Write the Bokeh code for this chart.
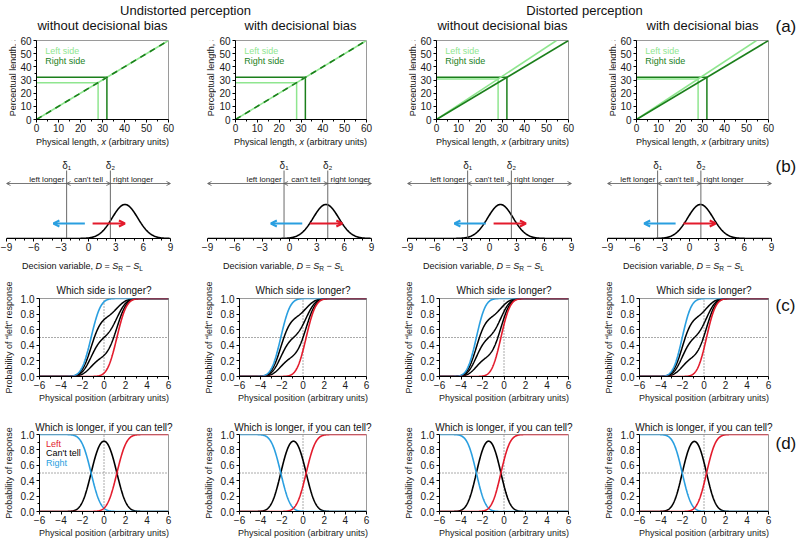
import numpy as np
from math import erf, sqrt, pi
from bokeh.plotting import figure
from bokeh.models import Range1d, FixedTicker, Label, Arrow, OpenHead, NumeralTickFormatter
from bokeh.layouts import column, row
from bokeh.embed import file_html
from bokeh.resources import INLINE

FONT = "Liberation Sans"

# ---------------- data ----------------
group_titles = ["Undistorted perception", "Distorted perception"]
col_titles = ["without decisional bias", "with decisional bias",
              "without decisional bias", "with decisional bias"]
panel_tags = ["(a)", "(b)", "(c)", "(d)"]

# (a) perceptual length S = gain * physical length x
left_gain = [1.0, 1.0, 1.1, 1.1]
right_gain = [1.0, 1.0, 1.0, 1.0]
base_len = 30            # length of each side when the mark is at position 0
example_left = 28        # physical lengths used in rows (a) and (b)
example_right = 32
len_ticks = [0, 10, 20, 30, 40, 50, 60]
len_minor = [5, 15, 25, 35, 45, 55]

# (b) decision criteria and noise of D = S_R - S_L
delta1 = [-2.4, -0.6, -2.4, -3.5]
delta2 = [2.4, 4.2, 2.4, 1.25]
noise_sd = 1.4
dv_ticks = [-9, -6, -3, 0, 3, 6, 9]
dv_minor = [-8, -7, -5, -4, -2, -1, 1, 2, 4, 5, 7, 8]
blue_arrow = [-0.4, -3.85]   # start/end, relative to centre of the "can't tell" zone
red_arrow = [0.45, 4.0]

# (c) probability of saying "left" when "can't tell" (blue, black x3, red)
guess_left = [1.0, 0.75, 0.5, 0.25, 0.0]
pos_ticks = [-6, -4, -2, 0, 2, 4, 6]
pos_minor = [-5, -3, -1, 1, 3, 5]
prob_ticks = [0.0, 0.2, 0.4, 0.6, 0.8, 1.0]
prob_minor = [0.1, 0.3, 0.5, 0.7, 0.9]

LIGHT_GREEN = "#8fe68f"
DARK_GREEN = "#1b7f1b"
BLUE = "#2a9fe0"
RED = "#e31b2c"
BLACK = "#000000"
TXT = "#111111"

# ---------------- layout (pixels) ----------------
TOTAL_W = 798
col_w = [200, 200, 200, 175]
TAG_W = 23
col_x0 = [0, 200, 400, 600]
L_acd = [36, 34, 36, 36]
FW_ACD = 132
L_b = [6, 7, 7, 7]
FW_B = 164
YSTRIP_W = 16

CW = {' ': 278, ',': 278, '(': 333, ')': 333, '=': 584, '\u2212': 584, "'": 191,
      '.': 278, '-': 333}
for ch, w in zip("abcdefghijklmnopqrstuvwxyz",
                 [556, 556, 500, 556, 556, 278, 556, 556, 222, 222, 500, 222, 833,
                  556, 556, 556, 556, 333, 500, 278, 556, 500, 722, 500, 500, 500]):
    CW[ch] = w
for ch, w in zip("ABCDEFGHIJKLMNOPQRSTUVWXYZ",
                 [667, 667, 722, 722, 667, 611, 778, 722, 278, 500, 667, 556, 833,
                  722, 778, 667, 778, 722, 667, 611, 722, 667, 944, 667, 667, 611]):
    CW[ch] = w


def text_w(s, size):
    return sum(CW.get(ch, 556) for ch in s) * size / 1000.0


def blank(width, height):
    p = figure(width=width, height=height, x_range=Range1d(0, width), y_range=Range1d(0, height),
               toolbar_location=None, output_backend="svg", title=None,
               x_axis_location=None, y_axis_location=None, min_border=0)
    p.grid.visible = False
    p.outline_line_color = None
    return p


def compose(p, x, y, segs, vertical=False):
    total = sum(text_w(t, sz) for t, sz, st, dy in segs)
    pos = -total / 2.0
    for t, sz, st, dy in segs:
        lead = text_w(t[:len(t) - len(t.lstrip())], sz)
        core = t.strip()
        if core:
            if vertical:
                lab = Label(x=x, y=y, x_offset=-dy, y_offset=pos + lead, angle=pi / 2, text=core)
            else:
                lab = Label(x=x, y=y, x_offset=pos + lead, y_offset=dy, text=core)
            lab.text_font = FONT
            lab.text_font_size = f"{sz}px"
            lab.text_font_style = st
            lab.text_align = "left"
            lab.text_baseline = "alphabetic"
            lab.text_color = TXT
            p.add_layout(lab)
        pos += text_w(t, sz)


def style_axes(p):
    for ax in p.axis:
        ax.major_label_text_font = FONT
        ax.major_label_text_font_size = "10px"
        ax.major_label_text_color = "#1a1a1a"
        ax.axis_label_text_font = FONT
        ax.axis_label_text_font_size = "9px"
        ax.axis_label_text_font_style = "normal"
        ax.axis_label_text_color = "#1a1a1a"
        ax.major_tick_out = 3
        ax.major_tick_in = 0
        ax.minor_tick_out = 2
        ax.minor_tick_in = 0
        ax.axis_line_color = "black"
        ax.major_tick_line_color = "black"
        ax.minor_tick_line_color = "black"
    for ax in p.xaxis:
        ax.major_label_standoff = 1
        ax.axis_label_standoff = 1
    for ax in p.yaxis:
        ax.major_label_standoff = 2
        ax.axis_label_standoff = 4


def minus_overrides(ticks):
    return {t: ("\u2212" + str(abs(t))) for t in ticks if t < 0}


def phi(z):
    return 0.5 * (1.0 + np.vectorize(erf)(np.asarray(z) / sqrt(2.0)))


def mean_dv(i, pos):
    # D = S_R - S_L for a mark at physical position pos
    return right_gain[i] * (base_len - pos) - left_gain[i] * (base_len + pos)


def tag_fig(height, text, from_top):
    p = blank(TAG_W, height)
    if text:
        p.add_layout(Label(x=0, y=height - from_top, text=text, text_font=FONT,
                           text_font_size="17px", text_align="left", text_baseline="middle",
                           text_color=TXT))
    return p


def acd_fig(i, H, T, B, xr, yr, title=None, left_cut=0):
    W = col_w[i] - left_cut
    L = L_acd[i] - left_cut
    p = figure(width=W, height=H, x_range=Range1d(*xr), y_range=Range1d(*yr),
               toolbar_location=None, output_backend="svg", title=title,
               min_border_left=L, min_border_right=W - L - FW_ACD,
               min_border_top=T, min_border_bottom=B)
    p.grid.visible = False
    p.outline_line_color = "#9a9a9a"
    p.outline_line_width = 1
    style_axes(p)
    return p


def frame_center(i):
    return col_x0[i] + L_acd[i] + FW_ACD / 2.0


# ---------------- header (two title lines + tag a) ----------------
HEAD_H = 35
header = blank(TOTAL_W, HEAD_H)
for txt, cx in zip(group_titles, [185, 584]):
    header.add_layout(Label(x=cx, y=25.5, text=txt, text_font=FONT, text_font_size="13px",
                            text_align="center", text_baseline="alphabetic", text_color=TXT))
for i, txt in enumerate(col_titles):
    header.add_layout(Label(x=frame_center(i), y=10, text=txt, text_font=FONT,
                            text_font_size="13px", text_align="center",
                            text_baseline="alphabetic", text_color=TXT))
header.add_layout(Label(x=775, y=HEAD_H - 26, text=panel_tags[0], text_font=FONT,
                        text_font_size="17px", text_align="left", text_baseline="middle",
                        text_color=TXT))

# ---------------- row (a) ----------------
ROW_A_H = 100
ROW_A_T = 5
FH_A = 79
row_a = []
for i in range(4):
    ys = blank(YSTRIP_W, ROW_A_H)
    compose(ys, L_acd[i] - 24, ROW_A_H - ROW_A_T - FH_A / 2.0,
            [("Perceptual length, ", 9, "normal", 0), ("S", 9, "italic", 0)], vertical=True)
    row_a.append(ys)

    p = acd_fig(i, ROW_A_H, ROW_A_T, 16, (0, 60), (0, 60), left_cut=YSTRIP_W)
    p.xaxis.ticker = FixedTicker(ticks=len_ticks, minor_ticks=len_minor)
    p.yaxis.ticker = FixedTicker(ticks=len_ticks, minor_ticks=len_minor)

    gl, gr = left_gain[i], right_gain[i]
    sl, sr = gl * example_left, gr * example_right
    p.line([example_left, example_left, 0], [0, sl, sl], line_color=LIGHT_GREEN, line_width=1.5)
    p.line([example_right, example_right, 0], [0, sr, sr], line_color=DARK_GREEN, line_width=1.5)
    p.line([0, 60 / gl], [0, 60], line_color=LIGHT_GREEN, line_width=1.6)
    if gl == gr:
        p.line([0, 60 / gr], [0, 60], line_color=DARK_GREEN, line_width=1.6, line_dash="6 5")
    else:
        p.line([0, 60 / gr], [0, 60], line_color=DARK_GREEN, line_width=1.6)

    p.add_layout(Label(x=4, y=52.4, text="Left side", text_font=FONT, text_font_size="9px",
                       text_color=LIGHT_GREEN, text_baseline="middle"))
    p.add_layout(Label(x=4, y=44.8, text="Right side", text_font=FONT, text_font_size="9px",
                       text_color=DARK_GREEN, text_baseline="middle"))
    row_a.append(p)
row_a.append(tag_fig(ROW_A_H, None, 0))

strip_a = blank(TOTAL_W, 12)
for i in range(4):
    compose(strip_a, frame_center(i), 5.5,
            [("Physical length, ", 9, "normal", 0), ("x", 9, "italic", 0),
             (" (arbitrary units)", 9, "normal", 0)])

# ---------------- row (b) ----------------
ROW_B_H = 107
row_b = []
D = np.linspace(-9, 9, 361)
for i in range(4):
    W = col_w[i]
    L = L_b[i]
    p = figure(width=W, height=ROW_B_H, x_range=Range1d(-9, 9), y_range=Range1d(0, 86),
               toolbar_location=None, output_backend="svg", y_axis_location=None, title=None,
               min_border_left=L, min_border_right=W - L - FW_B,
               min_border_top=5, min_border_bottom=16)
    p.grid.visible = False
    p.outline_line_color = None
    style_axes(p)
    p.xaxis.ticker = FixedTicker(ticks=dv_ticks, minor_ticks=dv_minor)
    p.xaxis.major_label_overrides = minus_overrides(dv_ticks)

    d1, d2 = delta1[i], delta2[i]
    c = 0.5 * (d1 + d2)
    mu = right_gain[i] * example_right - left_gain[i] * example_left
    p.line(D, 34 * np.exp(-0.5 * ((D - mu) / noise_sd) ** 2), line_color=BLACK, line_width=1.6)

    for d in (d1, d2):
        p.line([d, d], [0, 68], line_color="#6a6a6a", line_width=1)
    p.add_layout(Label(x=d1, y=73, text="\u03b4\u2081", text_font=FONT, text_font_size="10px",
                       text_align="center", text_baseline="middle", text_color="#222222"))
    p.add_layout(Label(x=d2, y=73, text="\u03b4\u2082", text_font=FONT, text_font_size="10px",
                       text_align="center", text_baseline="middle", text_color="#222222"))

    gcol = "#555555"
    yl = 55
    p.add_layout(Arrow(x_start=d1, y_start=yl, x_end=-9, y_end=yl, line_color=gcol,
                       line_width=0.8, end=OpenHead(size=4, line_color=gcol, line_width=0.8)))
    p.add_layout(Arrow(x_start=d1, y_start=yl, x_end=d2, y_end=yl, line_color=gcol,
                       line_width=0.8, start=OpenHead(size=4, line_color=gcol, line_width=0.8),
                       end=OpenHead(size=4, line_color=gcol, line_width=0.8)))
    p.add_layout(Arrow(x_start=d2, y_start=yl, x_end=9, y_end=yl, line_color=gcol,
                       line_width=0.8, end=OpenHead(size=4, line_color=gcol, line_width=0.8)))
    for txt, x, al in (("left longer", d1 - 0.25, "right"), ("can't tell", c, "center"),
                       ("right longer", d2 + 0.3, "left")):
        p.add_layout(Label(x=x, y=59, text=txt, text_font=FONT, text_font_size="8px",
                           text_align=al, text_baseline="alphabetic", text_color="#222222"))

    p.add_layout(Arrow(x_start=c + blue_arrow[0], y_start=15, x_end=c + blue_arrow[1],
                       y_end=15, line_color=BLUE, line_width=2,
                       end=OpenHead(size=6, line_color=BLUE, line_width=2)))
    p.add_layout(Arrow(x_start=c + red_arrow[0], y_start=15, x_end=c + red_arrow[1],
                       y_end=15, line_color=RED, line_width=2,
                       end=OpenHead(size=6, line_color=RED, line_width=2)))
    row_b.append(p)
row_b.append(tag_fig(ROW_B_H, panel_tags[1], 18))

strip_b = blank(TOTAL_W, 17)
for i in range(4):
    cx = col_x0[i] + L_b[i] + FW_B / 2.0 - 6
    compose(strip_b, cx, 5.5,
            [("Decision variable, ", 9, "normal", 0), ("D", 9, "italic", 0),
             (" = ", 9, "normal", 0), ("S", 9, "italic", 0),
             ("R", 6.5, "normal", -2.5), (" \u2212 ", 9, "normal", 0),
             ("S", 9, "italic", 0), ("L", 6.5, "normal", -2.5)])

# ---------------- rows (c) and (d) ----------------
pos = np.linspace(-6, 6, 361)


def cd_fig(i, H, T, title, ylabel, standoff):
    p = acd_fig(i, H, T, 28, (-6, 6), (0, 1), title=title)
    p.title.align = "center"
    p.title.text_font = FONT
    p.title.text_font_size = "10px"
    p.title.text_font_style = "normal"
    p.title.text_color = TXT
    p.title.standoff = standoff
    p.xaxis.ticker = FixedTicker(ticks=pos_ticks, minor_ticks=pos_minor)
    p.xaxis.major_label_overrides = minus_overrides(pos_ticks)
    p.yaxis.ticker = FixedTicker(ticks=prob_ticks, minor_ticks=prob_minor)
    p.yaxis.formatter = NumeralTickFormatter(format="0.0")
    p.xaxis.axis_label = "Physical position (arbitrary units)"
    p.yaxis.axis_label = ylabel
    p.line([-6, 6], [0.5, 0.5], line_color="#555555", line_width=1, line_dash="1 2")
    p.line([0, 0], [0, 1], line_color="#555555", line_width=1, line_dash="1 2")
    return p


ROW_C_H = 134
ROW_D_H = 135
row_c, row_d = [], []
for i in range(4):
    mu = mean_dv(i, pos)
    p_left = phi((delta1[i] - mu) / noise_sd)
    p_below2 = phi((delta2[i] - mu) / noise_sd)
    p_cant = p_below2 - p_left
    p_right = 1.0 - p_below2

    pc = cd_fig(i, ROW_C_H, 27, "Which side is longer?",
                "Probability of \u201cleft\u201d response", 5)
    for g in guess_left[1:-1]:
        pc.line(pos, p_left + g * p_cant, line_color=BLACK, line_width=1.5)
    pc.line(pos, p_left + guess_left[0] * p_cant, line_color=BLUE, line_width=1.6)
    pc.line(pos, p_left + guess_left[-1] * p_cant, line_color=RED, line_width=1.6)
    row_c.append(pc)

    pd = cd_fig(i, ROW_D_H, 29, "Which is longer, if you can tell?", "Probability of response", 3)
    pd.line(pos, p_cant, line_color=BLACK, line_width=1.6)
    pd.line(pos, p_right, line_color=BLUE, line_width=1.6)
    pd.line(pos, p_left, line_color=RED, line_width=1.6)
    if i == 0:
        for txt, yy, colr in (("Left", 0.88, RED), ("Can't tell", 0.755, BLACK),
                              ("Right", 0.63, BLUE)):
            pd.add_layout(Label(x=-5.4, y=yy, text=txt, text_font=FONT, text_font_size="9px",
                                text_color=colr, text_baseline="middle"))
    row_d.append(pd)
row_c.append(tag_fig(ROW_C_H, panel_tags[2], 12))
row_d.append(tag_fig(ROW_D_H, panel_tags[3], 16))

layout = column(header, row(*row_a), strip_a, row(*row_b), strip_b, row(*row_c), row(*row_d))
open("out.html", "w").write(file_html(layout, INLINE))
